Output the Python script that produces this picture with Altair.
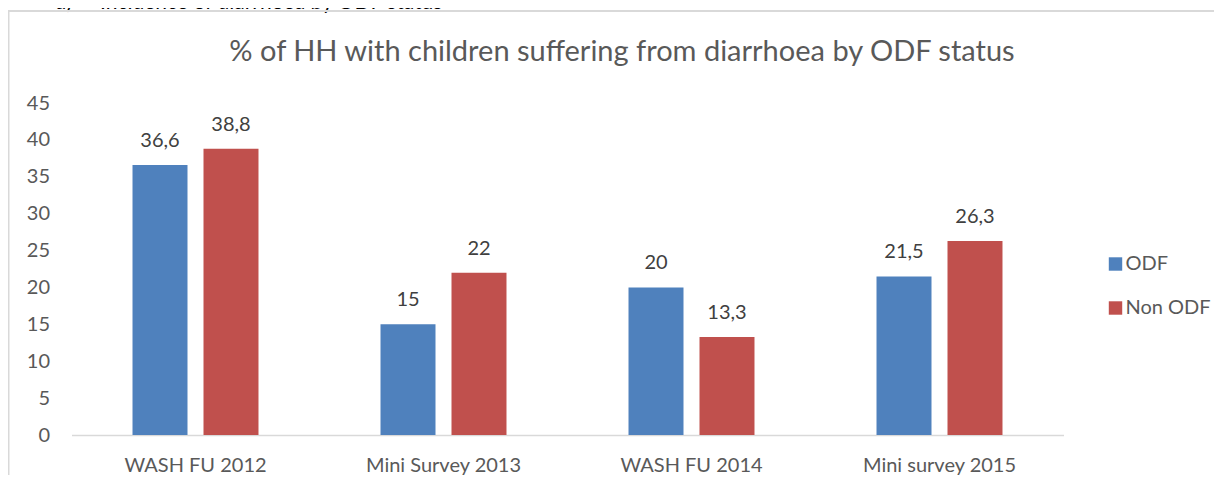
import altair as alt
import pandas as pd

categories = ["WASH FU 2012", "Mini Survey 2013", "WASH FU 2014", "Mini survey 2015"]
series = ["ODF", "Non ODF"]
odf = [36.6, 15, 20, 21.5]
non_odf = [38.8, 22, 13.3, 26.3]
colors = ["#4F81BD", "#C0504D"]
title_text = "% of HH with children suffering from diarrhoea by ODF status"
heading_num = "d)"
heading_text = "Incidence of diarrhoea by ODF status"

rows = []
for c, a, b in zip(categories, odf, non_odf):
    for s, v in zip(series, (a, b)):
        lbl = (f"{v:g}").replace(".", ",")
        rows.append({"cat": c, "series": s, "value": v, "label": lbl})
df = pd.DataFrame(rows)

FONT = "Lato"

x = alt.X("cat:N", sort=categories, title=None,
          scale=alt.Scale(paddingInner=0.492, paddingOuter=0.246),
          axis=alt.Axis(labelAngle=0, labelFont=FONT, labelFontSize=20, labelColor="#595959",
                        domainColor="#d9d9d9", domainWidth=1.5, ticks=False, labelPadding=20))
xo = alt.XOffset("series:N", sort=series, scale=alt.Scale(paddingInner=0.2254, paddingOuter=0))
y = alt.Y("value:Q", title=None,
          scale=alt.Scale(domain=[0, 45], nice=False),
          axis=alt.Axis(values=list(range(0, 50, 5)), grid=False, domain=False, ticks=False,
                        labelFont=FONT, labelFontSize=20, labelColor="#595959", labelPadding=22))

bars = alt.Chart(df).mark_bar().encode(
    x=x, xOffset=xo, y=y,
    color=alt.Color("series:N", sort=series, title=None,
                    scale=alt.Scale(domain=series, range=colors),
                    legend=alt.Legend(orient="none", legendX=1034, legendY=151,
                                      symbolType="square", symbolSize=180, symbolStrokeWidth=0,
                                      labelFont=FONT, labelFontSize=20, labelColor="#595959",
                                      rowPadding=24, labelOffset=0)),
)

labels = alt.Chart(df).mark_text(baseline="bottom", dy=-14, font=FONT, fontSize=20, color="#404040").encode(
    x=x, xOffset=xo, y=y, text="label:N"
)

one = pd.DataFrame({"k": [0]})
frame = alt.Chart(one).mark_rect(fill=None, stroke="#d9d9d9", strokeWidth=2).encode(
    x=alt.value(-63), x2=alt.value(2000), y=alt.value(-92), y2=alt.value(1000)
)

title = alt.Chart(one).mark_text(align="center", baseline="alphabetic", font=FONT, fontSize=29,
                                 color="#595959").encode(
    x=alt.value(550.5), y=alt.value(-42), text=alt.value(title_text)
)

head1 = alt.Chart(one).mark_text(align="left", baseline="alphabetic", font=FONT, fontSize=21,
                                 color="#000000").encode(
    x=alt.value(-17), y=alt.value(-94), text=alt.value(heading_num)
)
head2 = alt.Chart(one).mark_text(align="left", baseline="alphabetic", font=FONT, fontSize=21,
                                 color="#000000").encode(
    x=alt.value(28.5), y=alt.value(-94), text=alt.value(heading_text)
)

chart = alt.layer(head1, head2, frame, bars, labels, title).properties(
    width=992, height=332,
    autosize=alt.AutoSizeParams(type="none"),
    padding={"left": 63.5, "top": 95, "right": 150, "bottom": 40},
).configure_view(stroke=None)

chart.save("out.html", embed_options={"renderer": "svg", "actions": False})
